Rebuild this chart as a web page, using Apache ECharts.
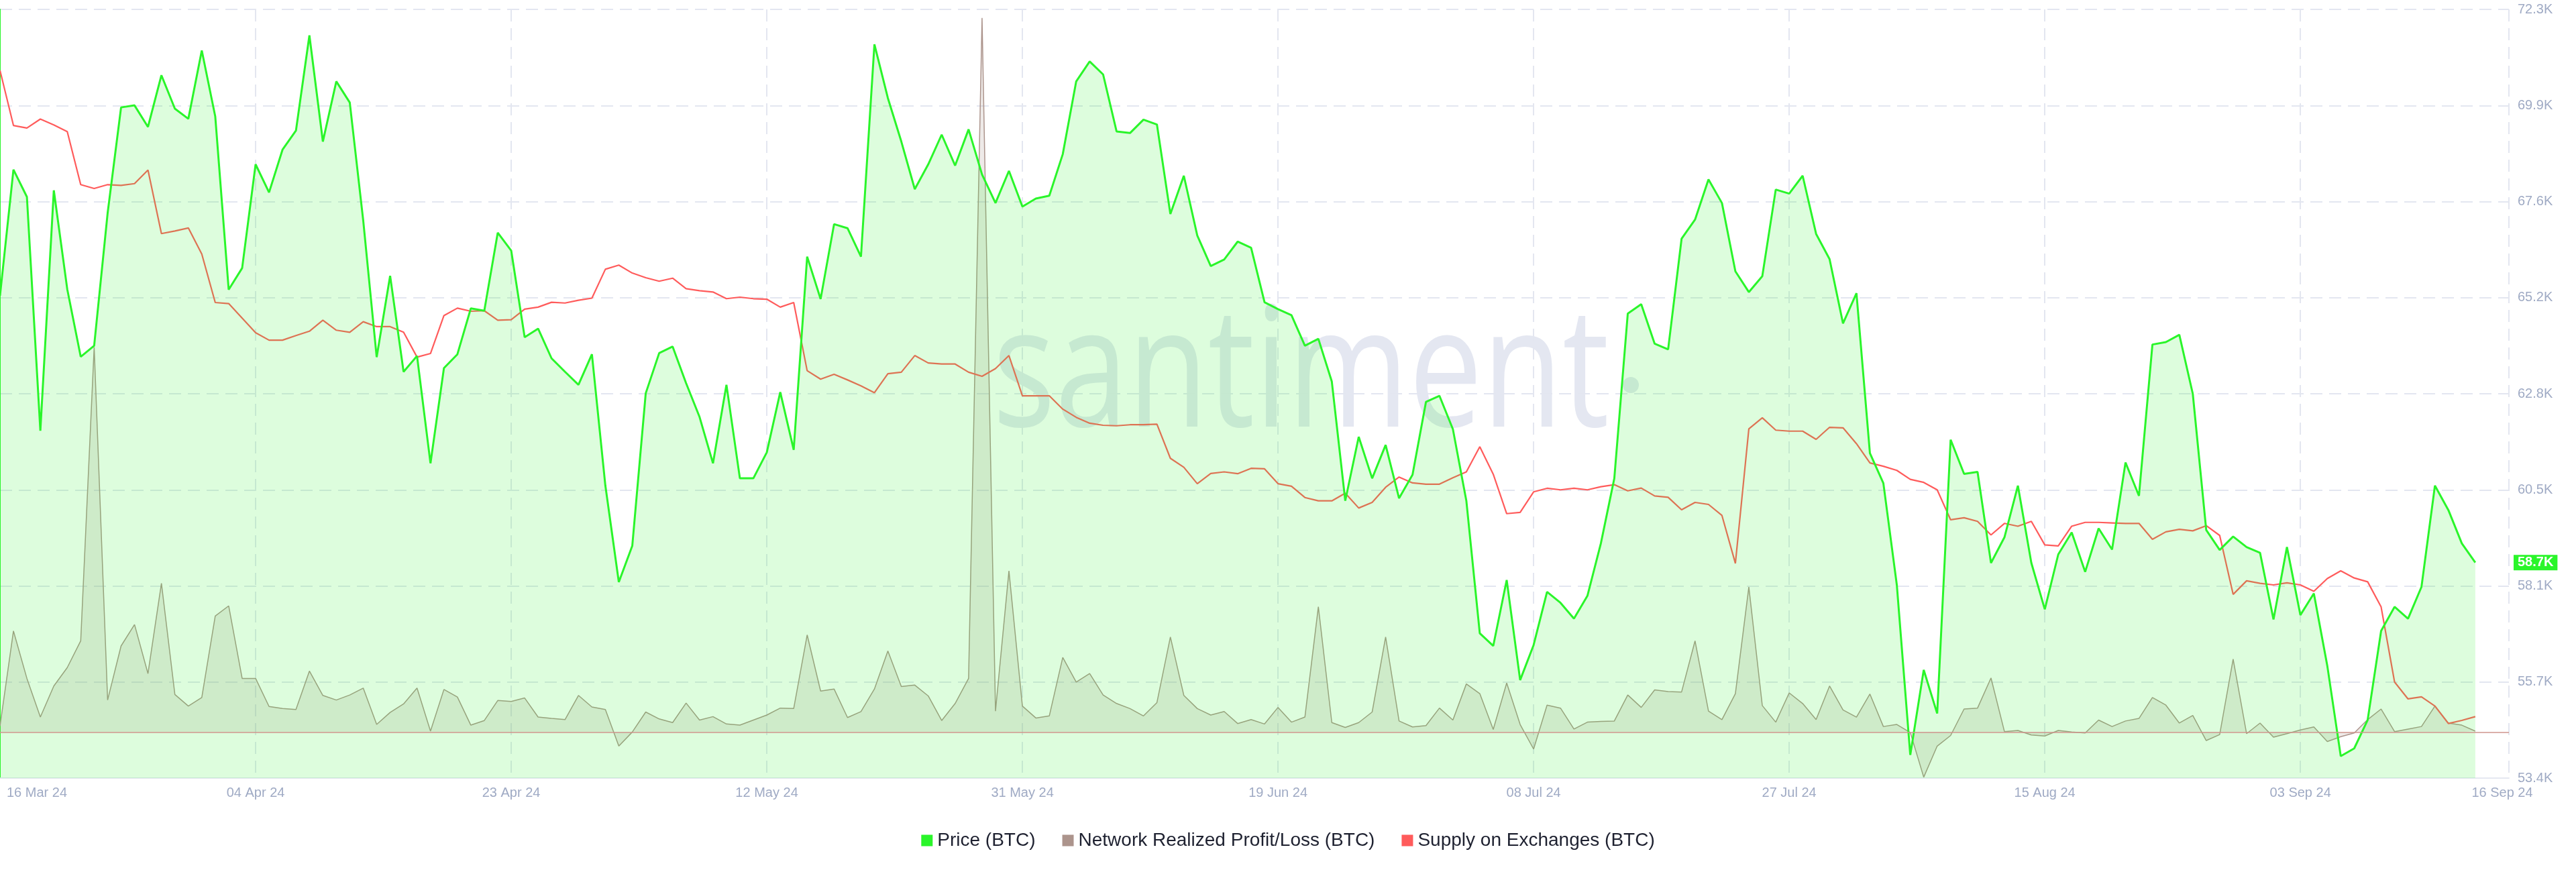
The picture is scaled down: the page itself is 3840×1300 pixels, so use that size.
<!DOCTYPE html>
<html>
<head>
<meta charset="utf-8">
<script src="https://cdn.jsdelivr.net/npm/echarts@6.0.0/dist/echarts.min.js"></script>
<style>
  html, body { margin: 0; padding: 0; background: #ffffff; }
  #chart { width: 3840px; height: 1300px; }
</style>
</head>
<body>
<div id="chart"></div>
<script>
// ---------- DATA ----------
const startDate = '2024-03-16';
const dayCount = 185; // 16 Mar 2024 .. 16 Sep 2024, daily
const dates = [];
for (let i = 0; i < dayCount; i++) {
  const d = new Date(Date.parse(startDate) + i * 86400000);
  dates.push(d.toISOString().slice(0, 10));
}

// Price (BTC), USD
const priceBTC = [
  65260, 68360, 67690, 61940, 67850, 65420, 63760, 64030, 67290, 69890,
  69940, 69410, 70680, 69860, 69610, 71290, 69670, 65410, 65940, 68490,
  67800, 68850, 69320, 71660, 69050, 70530, 70010, 67110, 63750, 65750,
  63390, 63780, 61140, 63480, 63820, 64950, 64890, 66810, 66370, 64240,
  64450, 63720, 63390, 63070, 63820, 60590, 58220, 59110, 62860, 63850,
  64010, 63110, 62280, 61140, 63070, 60770, 60770, 61410, 62890, 61470,
  66220, 65180, 67020, 66920, 66220, 71440, 70120, 69050, 67880, 68490,
  69220, 68460, 69350, 68240, 67540, 68330, 67450, 67650, 67720, 68740,
  70530, 71020, 70700, 69300, 69260, 69590, 69470, 67270, 68210, 66740,
  65990, 66150, 66590, 66440, 65100, 64930, 64780, 64030, 64200, 63150,
  60220, 61790, 60770, 61590, 60280, 60860, 62650, 62800, 61980, 60220,
  56960, 56650, 58270, 55810, 56670, 57980, 57710, 57320, 57880, 59170,
  60770, 64820, 65050, 64080, 63940, 66660, 67130, 68120, 67540, 65860,
  65350, 65740, 67870, 67770, 68210, 66780, 66160, 64580, 65320, 61390,
  60650, 58150, 53970, 56060, 54990, 61720, 60880, 60930, 58690, 59320,
  60590, 58690, 57550, 58900, 59440, 58470, 59540, 59020, 61160, 60340,
  64060, 64120, 64300, 62850, 59500, 59010, 59340, 59080, 58940, 57300,
  59080, 57410, 57940, 56160, 53940, 54130, 54830, 57020, 57610, 57320,
  58100, 60590, 59990, 59170, 58700
];

// Network Realized Profit/Loss (BTC), million USD
const networkRealizedPL = [
  26, 439, 233, 65, 200, 280, 396, 1672, 139, 374,
  467, 254, 646, 163, 113, 150, 504, 548, 233, 233,
  111, 102, 98, 265, 159, 139, 161, 191, 33, 85,
  122, 191, 4, 185, 152, 30, 50, 137, 133, 148,
  65, 59, 54, 159, 109, 98, -61, 0, 87, 57,
  41, 126, 52, 67, 35, 30, 52, 74, 104, 102,
  422, 178, 187, 63, 89, 187, 352, 198, 204, 157,
  50, 124, 233, 3102, 91, 700, 113, 61, 70, 324,
  217, 254, 161, 124, 102, 70, 128, 413, 159, 102,
  74, 89, 37, 54, 35, 107, 43, 65, 544, 41,
  20, 41, 87, 413, 48, 22, 28, 104, 52, 209,
  167, 11, 213, 33, -74, 117, 104, 13, 43, 46,
  48, 161, 107, 183, 176, 174, 396, 91, 54, 167,
  630, 115, 43, 170, 124, 54, 200, 96, 65, 165,
  24, 33, -2, -196, -61, -15, 100, 104, 235, 2,
  7, -13, -17, 7, 0, -4, 52, 24, 48, 59,
  150, 117, 39, 72, -37, -11, 317, -7, 39, -22,
  -7, 9, 22, -41, -20, -4, 54, 100, 2, 13,
  24, 113, 39, 30, 4
];

// Supply on Exchanges (BTC), thousand BTC
const supplyOnExchanges = [
  2076.2, 2054.7, 2053.7, 2057.2, 2054.9, 2052.3, 2031.6, 2030.1, 2031.6, 2031.3,
  2032.0, 2037.3, 2012.5, 2013.5, 2014.7, 2004.5, 1985.6, 1985.2, 1979.5, 1973.8,
  1970.9, 1970.9, 1972.7, 1974.4, 1978.7, 1974.8, 1974.0, 1978.1, 1976.2, 1976.2,
  1974.0, 1964.3, 1965.7, 1980.5, 1983.4, 1982.2, 1982.4, 1978.7, 1978.9, 1983.0,
  1983.8, 1985.7, 1985.4, 1986.5, 1987.3, 1998.6, 2000.2, 1997.1, 1995.3, 1993.9,
  1995.1, 1991.0, 1990.2, 1989.7, 1987.1, 1987.7, 1987.1, 1986.9, 1983.8, 1985.6,
  1959.0, 1955.7, 1957.6, 1955.4, 1953.1, 1950.4, 1957.8, 1958.4, 1964.9, 1962.0,
  1961.6, 1961.6, 1958.4, 1956.8, 1959.8, 1964.9, 1949.2, 1949.2, 1949.2, 1944.0,
  1940.8, 1938.5, 1937.7, 1937.5, 1937.9, 1937.9, 1938.1, 1924.8, 1921.3, 1914.9,
  1918.9, 1919.5, 1918.8, 1920.9, 1920.7, 1914.9, 1913.9, 1909.5, 1908.2, 1908.2,
  1911.2, 1905.4, 1907.6, 1913.5, 1917.5, 1915.2, 1914.7, 1914.7, 1917.2, 1919.5,
  1929.3, 1918.6, 1903.2, 1903.7, 1911.7, 1913.1, 1912.5, 1913.1, 1912.5, 1913.7,
  1914.5, 1912.1, 1913.2, 1910.1, 1909.6, 1904.7, 1907.6, 1906.8, 1902.5, 1883.8,
  1936.3, 1940.6, 1935.8, 1935.4, 1935.4, 1932.2, 1936.9, 1936.7, 1930.5, 1923.0,
  1921.7, 1920.1, 1916.6, 1915.4, 1912.5, 1900.8, 1901.6, 1900.2, 1894.9, 1899.4,
  1898.3, 1900.2, 1891.0, 1890.6, 1898.3, 1899.8, 1899.8, 1899.6, 1899.4, 1899.4,
  1893.2, 1896.1, 1897.1, 1896.5, 1898.5, 1894.7, 1871.7, 1877.0, 1876.0, 1875.4,
  1876.2, 1875.4, 1872.9, 1877.9, 1880.9, 1878.1, 1876.6, 1866.8, 1837.5, 1830.9,
  1831.7, 1828.1, 1821.3, 1822.5, 1824.0
];

// Tick labels
const xTickLabels = ['16 Mar 24', '04 Apr 24', '23 Apr 24', '12 May 24', '31 May 24',
  '19 Jun 24', '08 Jul 24', '27 Jul 24', '15 Aug 24', '03 Sep 24', '16 Sep 24'];
const priceTickLabels = ['53.4K', '55.7K', '58.1K', '60.5K', '62.8K', '65.2K', '67.6K', '69.9K', '72.3K'];
const priceMin = 53400, priceMax = 72300;

// ---------- BUILD ----------
const t0 = Date.parse(dates[0]);
const dayIdx = dates.map(d => (Date.parse(d) - t0) / 86400000);
const pair = arr => arr.map((v, i) => [dayIdx[i], v]);

const cPrice = '#2af52a';
const cNRPL = '#ac948c';
const cSupply = '#ff5b5b';
const labelColor = '#9faac4';
const gridColor = '#e3e6f0';

const chart = echarts.init(document.getElementById('chart'), null, { renderer: 'canvas' });
const lastPrice = priceBTC[priceBTC.length - 1];

chart.setOption({
  animation: false,
  backgroundColor: '#ffffff',
  textStyle: { fontFamily: 'Liberation Sans, Arial, sans-serif' },
  graphic: [
    {
      type: 'text', x: 1480, y: 565, scaleX: 0.78, z: 0, silent: true,
      style: {
        text: 'santiment', fill: '#e4e7f1',
        font: 'normal 250px "Open Sans"',
        align: 'left', verticalAlign: 'middle',
        textAlign: 'left', textVerticalAlign: 'middle'
      }
    },
    {
      type: 'circle', z: 0, silent: true,
      shape: { cx: 2431, cy: 574, r: 12 },
      style: { fill: '#e4e7f1' }
    }
  ],
  grid: { left: 0, right: 100, top: 14, bottom: 140, containLabel: false },
  legend: {
    top: 1234, left: 'center',
    icon: 'rect', itemWidth: 17, itemHeight: 17, itemGap: 40,
    selectedMode: false,
    textStyle: { fontSize: 28, color: '#1e2130', fontFamily: 'Liberation Sans, Arial, sans-serif', padding: [0, 0, 0, 2] },
    data: ['Price (BTC)', 'Network Realized Profit/Loss (BTC)', 'Supply on Exchanges (BTC)']
  },
  xAxis: {
    type: 'value',
    min: 0, max: 186.5, interval: 19,
    axisLine: { show: true, lineStyle: { color: '#e5e8f1', width: 2 } },
    axisTick: { show: false },
    splitLine: { show: true, lineStyle: { color: gridColor, width: 2, type: [18, 10] } },
    axisLabel: {
      fontSize: 20, color: labelColor, margin: 12,
      showMinLabel: true, showMaxLabel: true,
      alignMinLabel: 'left', alignMaxLabel: 'center',
      formatter: (v, i) => {
        const s = xTickLabels[i] || '';
        if (i === 0) return '{first|' + s + '}';
        if (i === xTickLabels.length - 1) return '{last|' + s + '}';
        return s;
      },
      rich: {
        first: { fontSize: 20, color: labelColor, padding: [0, 0, 0, 10] },
        last: { fontSize: 20, color: labelColor, padding: [0, 20, 0, 0] }
      }
    }
  },
  yAxis: [
    { // visible price scale (ticks/labels)
      type: 'value', position: 'right', min: 0, max: 8, interval: 1,
      axisLine: { show: true, lineStyle: { color: cPrice, width: 2 } },
      axisTick: { show: false },
      splitLine: { show: true, lineStyle: { color: gridColor, width: 2, type: [18, 10] } },
      axisLabel: {
        fontSize: 20, color: labelColor, margin: 13,
        formatter: (v, i) => priceTickLabels[i] || ''
      }
    },
    { type: 'value', show: false, min: priceMin, max: priceMax, splitLine: { show: false } },
    { type: 'value', show: false, min: -200, max: 3139, splitLine: { show: false } },
    { type: 'value', show: false, min: 1800, max: 2100, splitLine: { show: false } }
  ],
  series: [
    {
      name: 'Network Realized Profit/Loss (BTC)',
      type: 'line', yAxisIndex: 2, z: 1,
      data: pair(networkRealizedPL),
      showSymbol: false, symbol: 'none',
      itemStyle: { color: cNRPL },
      lineStyle: { color: cNRPL, width: 1.5 },
      areaStyle: { color: cNRPL, opacity: 0.2 },
      markLine: {
        silent: true, symbol: 'none', label: { show: false },
        lineStyle: { color: '#cf958d', width: 1.5, type: 'solid' },
        data: [{ yAxis: 0 }]
      }
    },
    {
      name: 'Supply on Exchanges (BTC)',
      type: 'line', yAxisIndex: 3, z: 2,
      data: pair(supplyOnExchanges),
      showSymbol: false, symbol: 'none',
      itemStyle: { color: cSupply },
      lineStyle: { color: cSupply, width: 2.2 }
    },
    {
      name: 'Price (BTC)',
      type: 'line', yAxisIndex: 1, z: 3,
      data: pair(priceBTC),
      showSymbol: false, symbol: 'none',
      itemStyle: { color: cPrice },
      lineStyle: { color: cPrice, width: 3 },
      areaStyle: { color: cPrice, opacity: 0.16, origin: 'start' },
      markLine: {
        silent: true, symbol: 'none',
        lineStyle: { color: 'rgba(0,0,0,0)', width: 1, type: 'solid' },
        emphasis: { disabled: true },
        label: {
          show: true, position: 'end', distance: 7,
          formatter: () => (lastPrice / 1000).toFixed(1) + 'K',
          backgroundColor: cPrice, color: '#ffffff',
          fontSize: 20, fontWeight: 'bold', padding: [2, 6, 1, 6],
          fontFamily: 'Liberation Sans, Arial, sans-serif'
        },
        data: [{ yAxis: lastPrice }]
      }
    }
  ]
});
</script>
</body>
</html>
